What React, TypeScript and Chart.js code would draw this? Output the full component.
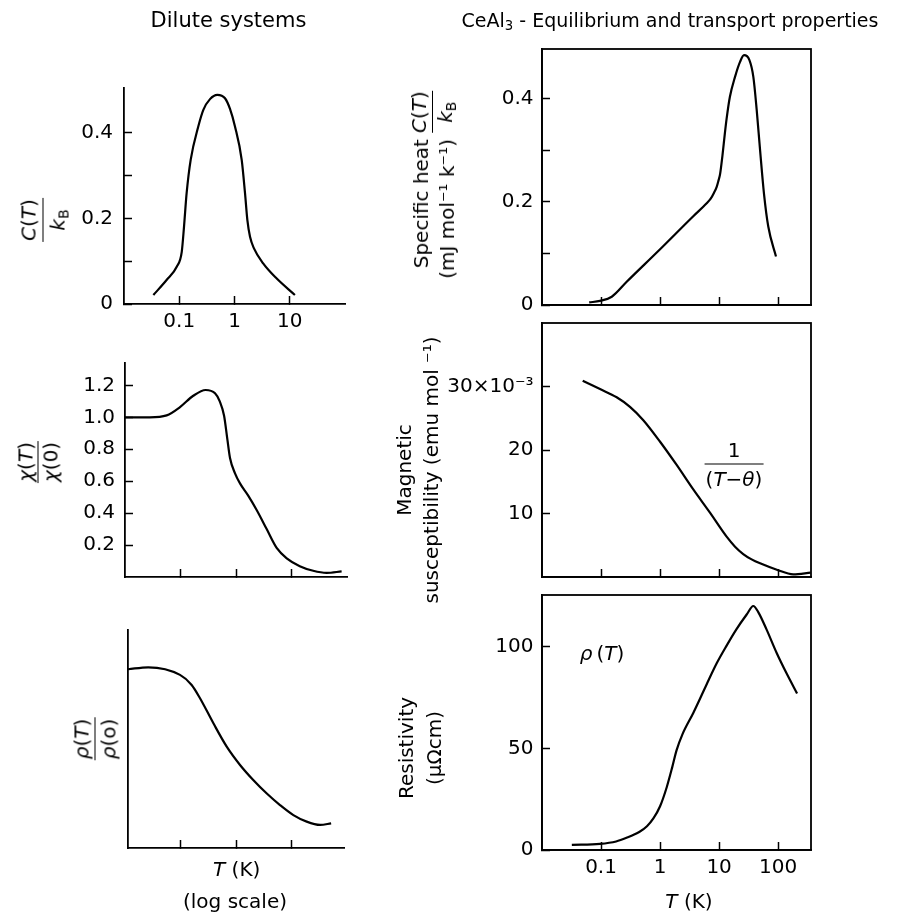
import React, { useEffect, useRef } from 'react';
import { Chart, registerables } from 'chart.js';
Chart.register(...registerables);

const FONT = "'DejaVu Sans', 'Liberation Sans', Arial, sans-serif";
const W = 919;
const H = 916;

// ---------- Data (temperature in K, log scale) ----------
// Dilute systems: specific heat C/kB
const dilC_T = [0.034, 0.059, 0.09, 0.111, 0.122, 0.136, 0.161, 0.221, 0.273, 0.36, 0.489, 0.673, 0.829, 1.02, 1.35, 1.55, 1.71, 1.91, 2.25, 3.3, 5.75, 12.4];
const dilC_V = [0.021, 0.056, 0.087, 0.122, 0.181, 0.259, 0.337, 0.415, 0.454, 0.479, 0.489, 0.481, 0.456, 0.415, 0.337, 0.259, 0.196, 0.157, 0.13, 0.095, 0.06, 0.021];
// Dilute systems: susceptibility chi(T)/chi(0)
const dilX_T = [0.01, 0.028, 0.0563, 0.098, 0.17, 0.284, 0.419, 0.51, 0.61, 0.70, 0.78, 0.96, 1.18, 1.67, 2.37, 3.57, 5.4, 8.2, 14.1, 24.6, 43, 80];
const dilX_V = [1.0, 1.0, 1.012, 1.064, 1.135, 1.171, 1.15, 1.10, 1.01, 0.86, 0.745, 0.649, 0.586, 0.508, 0.418, 0.3, 0.182, 0.117, 0.068, 0.039, 0.026, 0.035];
// Dilute systems: resistivity rho(T)/rho(0) (arbitrary units)
const dilR_T = [0.011, 0.0256, 0.096, 0.156, 0.221, 0.386, 0.672, 1.17, 2.03, 3.53, 6.19, 10.8, 18.8, 32.9, 52.1];
const dilR_V = [0.82, 0.829, 0.794, 0.748, 0.687, 0.572, 0.465, 0.381, 0.312, 0.251, 0.197, 0.151, 0.121, 0.106, 0.113];
// CeAl3: specific heat
const ceC_T = [0.063, 0.096, 0.152, 0.272, 1.0, 3.65, 6.16, 7.2, 8.2, 9.1, 9.7, 10.4, 11.4, 12.5, 13.4, 15.2, 18.6, 22.6, 26.4, 32.5, 38, 43.3, 49.4, 57.5, 68, 91.9];
const ceC_V = [0.005, 0.008, 0.016, 0.045, 0.108, 0.172, 0.197, 0.206, 0.2176, 0.229, 0.24, 0.254, 0.29, 0.332, 0.361, 0.403, 0.442, 0.471, 0.484, 0.475, 0.442, 0.378, 0.3, 0.216, 0.152, 0.094];
// CeAl3: magnetic susceptibility (10^-3 emu/mol)
const ceX_T = [0.0489, 0.0961, 0.184, 0.309, 0.52, 1.0, 1.91, 3.6, 7.0, 13.4, 18.6, 25.6, 35.5, 49.4, 95, 180, 355];
const ceX_V = [30.9, 29.6, 28.3, 26.8, 24.7, 21.3, 17.64, 13.86, 10.13, 6.35, 4.78, 3.62, 2.78, 2.15, 1.15, 0.42, 0.68];
// CeAl3: resistivity (µΩcm)
const ceR_T = [0.032, 0.096, 0.18, 0.27, 0.45, 0.6, 0.77, 1.0, 1.3, 1.6, 1.9, 2.4, 3.65, 6.0, 9.1, 13.4, 19.6, 29.3, 37.9, 46, 63.5, 94, 138, 209];
const ceR_V = [2.5, 3.0, 4.2, 6.0, 9.0, 11.7, 15.5, 21.5, 31, 40.5, 49, 57, 67.4, 80.8, 91.8, 100.5, 108.5, 115.8, 120, 117, 108.5, 97, 87, 77];

// ---------- Ticks ----------
const leftXTicks = [0.1, 1, 10];
const leftXLabels = ['0.1', '1', '10'];
const noLabels3 = ['', '', ''];
const rightXTicks = [0.1, 1, 10, 100];
const rightXLabels = ['0.1', '1', '10', '100'];
const noLabels4 = ['', '', '', ''];
const dilC_YTicks = [0, 0.1, 0.2, 0.3, 0.4];
const dilC_YLabels = ['0', '', '0.2', '', '0.4'];
const dilX_YTicks = [0.2, 0.4, 0.6, 0.8, 1.0, 1.2];
const dilX_YLabels = ['0.2', '0.4', '0.6', '0.8', '1.0', '1.2'];
const dilR_YTicks: number[] = [];
const dilR_YLabels: string[] = [];
const ceC_YTicks = [0, 0.1, 0.2, 0.3, 0.4];
const ceC_YLabels = ['0', '', '0.2', '', '0.4'];
const ceX_YTicks = [10, 20, 30];
const ceX_YLabels = ['10', '20', '30×10⁻³'];
const ceR_YTicks = [0, 50, 100];
const ceR_YLabels = ['0', '50', '100'];

type Spec = {
  area: [number, number, number, number];
  xMin: number; xMax: number; xTicks: number[]; xLabels: string[];
  yMin: number; yMax: number; yTicks: number[]; yLabels: string[];
  T: number[]; V: number[]; box: boolean; yGap: number;
};

const PANELS: Spec[] = [
  { area: [124, 88, 345, 304], xMin: 0.01, xMax: 100, xTicks: leftXTicks, xLabels: leftXLabels,
    yMin: 0, yMax: 0.505, yTicks: dilC_YTicks, yLabels: dilC_YLabels, T: dilC_T, V: dilC_V, box: false, yGap: 11 },
  { area: [125, 363, 347, 577], xMin: 0.01, xMax: 100, xTicks: leftXTicks, xLabels: noLabels3,
    yMin: 0, yMax: 1.34, yTicks: dilX_YTicks, yLabels: dilX_YLabels, T: dilX_T, V: dilX_V, box: false, yGap: 10 },
  { area: [128, 630, 344, 848], xMin: 0.011, xMax: 89, xTicks: leftXTicks, xLabels: noLabels3,
    yMin: 0, yMax: 1, yTicks: dilR_YTicks, yLabels: dilR_YLabels, T: dilR_T, V: dilR_V, box: false, yGap: 10 },
  { area: [542, 49, 811, 305], xMin: 0.01, xMax: 360, xTicks: rightXTicks, xLabels: noLabels4,
    yMin: 0, yMax: 0.496, yTicks: ceC_YTicks, yLabels: ceC_YLabels, T: ceC_T, V: ceC_V, box: true, yGap: 8.5 },
  { area: [542, 323, 811, 577], xMin: 0.01, xMax: 360, xTicks: rightXTicks, xLabels: noLabels4,
    yMin: 0, yMax: 40, yTicks: ceX_YTicks, yLabels: ceX_YLabels, T: ceX_T, V: ceX_V, box: true, yGap: 8.5 },
  { area: [542, 595, 811, 850], xMin: 0.01, xMax: 360, xTicks: rightXTicks, xLabels: rightXLabels,
    yMin: 0, yMax: 125.4, yTicks: ceR_YTicks, yLabels: ceR_YLabels, T: ceR_T, V: ceR_V, box: true, yGap: 8.5 },
];

const boxPlugin = {
  id: 'frameBox',
  afterDraw(chart: any) {
    const { ctx, chartArea: a } = chart;
    ctx.save();
    ctx.strokeStyle = '#000';
    ctx.lineWidth = 1.8;
    ctx.strokeRect(a.left, a.top, a.right - a.left, a.bottom - a.top);
    ctx.restore();
  },
};

function build(canvas: HTMLCanvasElement, s: Spec) {
  const [L, Tp, R, B] = s.area;
  const YW = 100;
  const XH = 60;
  const TL = -8;
  return new Chart(canvas, {
    type: 'line',
    data: {
      datasets: [{
        data: s.T.map((t, i) => ({ x: t, y: s.V[i] })),
        borderColor: '#000', borderWidth: 2.2, pointRadius: 0, fill: false,
        cubicInterpolationMode: 'monotone',
      }],
    },
    options: {
      responsive: false, animation: false, devicePixelRatio: 1,
      layout: { padding: { left: L - YW, top: Tp, right: W - R, bottom: H - B - XH } },
      plugins: { legend: { display: false }, tooltip: { enabled: false }, title: { display: false } },
      scales: {
        x: {
          type: 'logarithmic', position: 'bottom', min: s.xMin, max: s.xMax,
          afterBuildTicks: (sc: any) => { sc.ticks = s.xTicks.map((v) => ({ value: v })); },
          afterFit: (sc: any) => { sc.height = XH; },
          grid: { drawOnChartArea: false, drawTicks: true, tickLength: TL, tickColor: '#000', tickWidth: 1.5, color: '#000' },
          border: { display: true, color: '#000', width: 1.8 },
          ticks: {
            autoSkip: false, maxRotation: 0, minRotation: 0, padding: 13.5, color: '#000',
            font: { family: FONT, size: 20 },
            callback: (_v: any, i: number) => s.xLabels[i] ?? '',
          },
        },
        y: {
          type: 'linear', position: 'left', min: s.yMin, max: s.yMax,
          afterBuildTicks: (sc: any) => { sc.ticks = s.yTicks.map((v) => ({ value: v })); },
          afterFit: (sc: any) => { sc.width = YW; },
          grid: { drawOnChartArea: false, drawTicks: true, tickLength: TL, tickColor: '#000', tickWidth: 1.5, color: '#000' },
          border: { display: true, color: '#000', width: 1.8 },
          ticks: {
            autoSkip: false, padding: s.yGap - TL, color: '#000',
            font: { family: FONT, size: 20 },
            callback: (_v: any, i: number) => s.yLabels[i] ?? '',
          },
        },
      },
    } as any,
    plugins: s.box ? [boxPlugin] : [],
  });
}

const Txt = ({ x, y, rot, size = 20, lh, children, style }: any) => (
  <div style={{
    position: 'absolute', left: x, top: y,
    transform: `translate(-50%,-50%)${rot ? ' rotate(-90deg)' : ''}`,
    fontSize: size, lineHeight: `${lh ?? size}px`, whiteSpace: 'nowrap', textAlign: 'center', ...style,
  }}>{children}</div>
);

const Frac = ({ num, den, gap = 3, lh = 22 }: any) => (
  <div style={{ display: 'inline-flex', flexDirection: 'column', alignItems: 'center' }}>
    <div style={{ lineHeight: `${lh}px`, padding: '0 1px' }}>{num}</div>
    <div style={{ alignSelf: 'stretch', borderTop: '1.6px solid #000', margin: `${gap}px 0` }} />
    <div style={{ lineHeight: `${lh}px`, padding: '0 1px' }}>{den}</div>
  </div>
);

const Sub = ({ children }: any) => (
  <span style={{ fontSize: '0.7em', position: 'relative', top: '0.3em' }}>{children}</span>
);

export default function App() {
  const refs = useRef<(HTMLCanvasElement | null)[]>([]);
  useEffect(() => {
    const charts = PANELS.map((p, i) => build(refs.current[i] as HTMLCanvasElement, p));
    return () => charts.forEach((c) => c.destroy());
  }, []);

  return (
    <div style={{ position: 'absolute', left: 0, top: 0, width: W, height: H, background: '#fff', overflow: 'hidden', fontFamily: FONT, color: '#000' }}>
      {PANELS.map((_p, i) => (
        <canvas key={i} ref={(el) => { refs.current[i] = el; }} width={W} height={H}
          style={{ position: 'absolute', left: 0, top: 0 }} />
      ))}

      {/* Column titles */}
      <Txt x={228.5} y={19.5} size={21}>Dilute systems</Txt>
      <Txt x={670} y={20.5} size={19}>CeAl<Sub>3</Sub> - Equilibrium and transport properties</Txt>

      {/* Left column y titles */}
      <Txt x={44} y={220} rot>
        <Frac num={<span><i>C</i>(<i>T</i>)</span>} den={<span><i>k</i><Sub>B</Sub></span>} />
      </Txt>
      <Txt x={37.5} y={462} rot>
        <Frac num={<span><i>χ</i>(<i>T</i>)</span>} den={<span><i>χ</i>(0)</span>} gap={2} lh={20} />
      </Txt>
      <Txt x={95} y={739} rot>
        <Frac num={<span><i>ρ</i>(<i>T</i>)</span>} den={<span><i>ρ</i>(o)</span>} gap={2} lh={22} />
      </Txt>

      {/* Left bottom axis title */}
      <Txt x={236.7} y={869}><i>T</i> (K)</Txt>
      <Txt x={235} y={901}>(log scale)</Txt>

      {/* Right column y titles */}
      <Txt x={433} y={185} rot>
        <div style={{ display: 'grid', gridTemplateColumns: 'auto auto', columnGap: 6, alignItems: 'end' }}>
          <div style={{ textAlign: 'right', lineHeight: '24px' }}>Specific heat</div>
          <div style={{ textAlign: 'center', lineHeight: '24px', borderBottom: '1.6px solid #000', paddingBottom: 1 }}><i>C</i>(<i>T</i>)</div>
          <div style={{ textAlign: 'right', lineHeight: '24px' }}>(mJ mol⁻¹ k⁻¹)</div>
          <div style={{ textAlign: 'center', lineHeight: '24px' }}><i>k</i><Sub>B</Sub></div>
        </div>
      </Txt>
      <Txt x={418} y={470} rot lh={27}>
        <div>Magnetic</div>
        <div>susceptibility (emu mol ⁻¹)</div>
      </Txt>
      <Txt x={419.5} y={748} rot lh={28}>
        <div>Resistivity</div>
        <div>(µΩcm)</div>
      </Txt>

      {/* Right bottom axis title */}
      <Txt x={689} y={901}><i>T</i> (K)</Txt>

      {/* Annotations */}
      <Txt x={602} y={653}><i>ρ</i>&#8201;(<i>T</i>)</Txt>
      <Txt x={734} y={464}>
        <Frac num={<span>1</span>} den={<span>(<i>T</i>−<i>θ</i>)</span>} gap={4} lh={20} />
      </Txt>
    </div>
  );
}
